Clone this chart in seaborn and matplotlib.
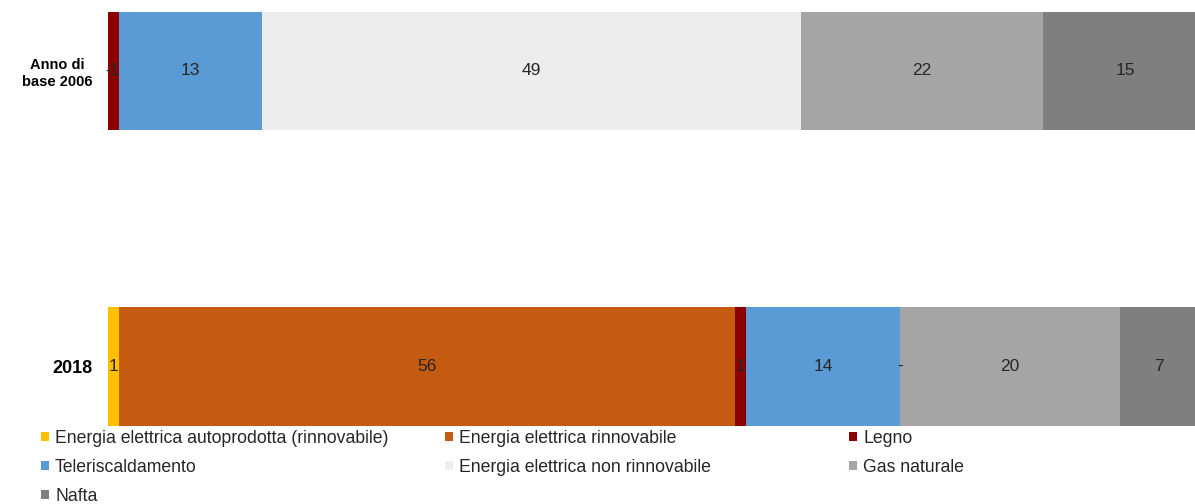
import matplotlib
matplotlib.use("Agg")
import matplotlib.pyplot as plt
from matplotlib.patches import Patch
import numpy as np
import pandas as pd
import seaborn as sns

# Category rows and energy-source series (shares in %)
categories = ["Anno di\nbase 2006", "2018"]
series_names = [
    "Energia elettrica autoprodotta (rinnovabile)",
    "Energia elettrica rinnovabile",
    "Legno",
    "Teleriscaldamento",
    "Energia elettrica non rinnovabile",
    "Gas naturale",
    "Nafta",
]
autoprodotta = [0, 1]
rinnovabile = [0, 56]
legno = [1, 1]
teleriscaldamento = [13, 14]
non_rinnovabile = [49, 0]
gas_naturale = [22, 20]
nafta = [15, 7]

colors = ["#FFC000", "#C55A11", "#8B0000", "#5B9BD5", "#EDEDED", "#A5A5A5", "#7F7F7F"]

values = [autoprodotta, rinnovabile, legno, teleriscaldamento,
          non_rinnovabile, gas_naturale, nafta]

sns.set_style("white")
plt.rcParams["font.family"] = ["Liberation Sans", "DejaVu Sans"]

fig = plt.figure(figsize=(11.95, 5.04), dpi=100)
ax = fig.add_axes([108 / 1195, 74 / 504, 1100 / 1195, 430 / 504])

df = pd.DataFrame({"cat": categories})
cum = np.cumsum(np.array(values, dtype=float), axis=0)

# Stacked bars: draw cumulative totals from the last series back to the first
for i in range(len(series_names) - 1, -1, -1):
    df["val"] = cum[i]
    sns.barplot(data=df, x="val", y="cat", orient="h", color=colors[i],
                saturation=1, width=0.4, linewidth=0, ax=ax, order=categories)

# Value labels centred on each segment
for i in range(len(series_names)):
    for j in range(len(categories)):
        v = values[i][j]
        start = cum[i][j] - v
        label = str(v) if v != 0 else "-"
        ax.text(start + v / 2, j, label, ha="center", va="center",
                fontsize=12.5, color="#262626")

ax.set_xlim(0, 100)
ax.set_ylim(1.215, -0.240)
ax.set_xlabel("")
ax.set_ylabel("")
ax.set_xticks([])
for s in ax.spines.values():
    s.set_visible(False)
ax.tick_params(axis="y", length=0, pad=11)
tick_sizes = [10.5, 13]
for t, fs in zip(ax.get_yticklabels(), tick_sizes):
    t.set_fontweight("bold")
    t.set_fontsize(fs)
    t.set_color("#000000")
    t.set_linespacing(1.25)
    t.set_multialignment("center")

# Legend laid out in three columns
columns = [[0, 3, 6], [1, 4], [2, 5]]
col_x = [41, 445, 849]
for cols, x in zip(columns, col_x):
    handles = [Patch(facecolor=colors[k], edgecolor="none", label=series_names[k]) for k in cols]
    leg = fig.legend(handles=handles, loc="upper left",
                     bbox_to_anchor=(x / 1195, 1 - 430 / 504),
                     bbox_transform=fig.transFigure, frameon=False,
                     fontsize=12.7, handlelength=0.45, handleheight=0.45,
                     handletextpad=0.35, labelspacing=0.68,
                     borderaxespad=0, borderpad=0)
    for t in leg.get_texts():
        t.set_color("#262626")

fig.savefig("out.png", dpi=100)
